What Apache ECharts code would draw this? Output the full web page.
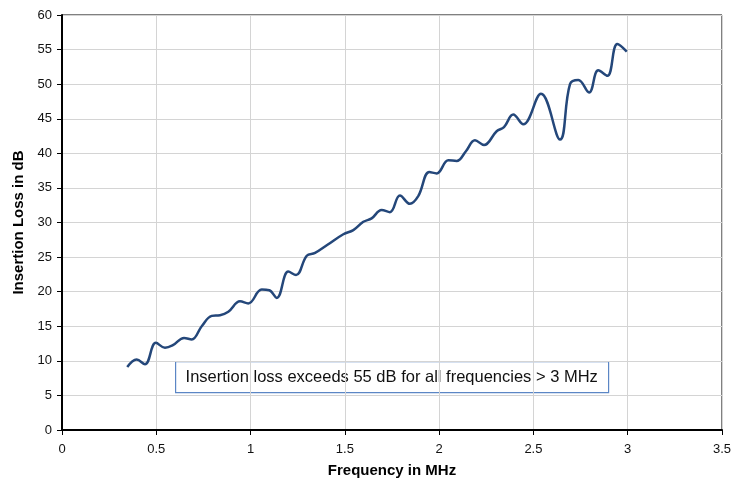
<!DOCTYPE html>
<html>
<head>
<meta charset="utf-8">
<script src="https://cdn.jsdelivr.net/npm/echarts@6/dist/echarts.min.js"></script>
<style>
  html, body { margin: 0; padding: 0; background: #fff; }
  #chart { width: 739px; height: 483px; }
</style>
</head>
<body>
<div id="chart"></div>
<script>
// frequency (MHz) and insertion loss (dB)
var freqMHz = [0.346, 0.396, 0.44, 0.498, 0.546, 0.59, 0.647, 0.688, 0.741, 0.794, 0.838, 0.882,
  0.944, 0.988, 1.059, 1.099, 1.139, 1.2, 1.241, 1.298, 1.342, 1.404, 1.492, 1.545, 1.598,
  1.642, 1.695, 1.739, 1.792, 1.845, 1.889, 1.948, 1.987, 2.049, 2.093, 2.142, 2.19, 2.238,
  2.305, 2.344, 2.393, 2.446, 2.54, 2.641, 2.694, 2.738, 2.795, 2.844, 2.892, 2.945, 2.995];
var lossDb = [9.1, 10.2, 9.5, 12.6, 11.9, 12.3, 13.3, 13.1, 15.0, 16.5, 16.6, 17.1,
  18.6, 18.3, 20.3, 20.2, 19.1, 22.9, 22.4, 25.2, 25.6, 26.7, 28.3, 28.9, 30.1,
  30.6, 31.8, 31.5, 33.9, 32.7, 33.8, 37.3, 37.1, 39.0, 38.9, 40.3, 41.9, 41.2,
  43.2, 43.8, 45.6, 44.2, 48.6, 42.0, 50.0, 50.6, 48.8, 52.0, 51.2, 55.8, 54.7];
var noteText = 'Insertion loss exceeds 55 dB for all frequencies > 3 MHz';

var font = 'Liberation Sans, Arial, sans-serif';
var chart = echarts.init(document.getElementById('chart'), null, { renderer: 'canvas' });
chart.setOption({
  animation: false,
  backgroundColor: '#fff',
  grid: { left: 62, right: 17, top: 15, bottom: 51, show: true, borderColor: '#000', borderWidth: 1 },
  xAxis: {
    type: 'value', min: 0, max: 3.5, interval: 0.5,
    name: 'Frequency in MHz', nameLocation: 'middle', nameGap: 33,
    nameTextStyle: { fontFamily: font, fontSize: 15, fontWeight: 'bold', color: '#000' },
    axisLine: { show: true, lineStyle: { color: '#000', width: 2 } },
    axisTick: { show: true, length: 5, lineStyle: { color: '#000' } },
    axisLabel: { fontFamily: font, fontSize: 13, color: '#111', margin: 13 },
    splitLine: { show: true, lineStyle: { color: '#d4d4d4', width: 1 } }
  },
  yAxis: {
    type: 'value', min: 0, max: 60, interval: 5,
    name: 'Insertion Loss in dB', nameLocation: 'middle', nameGap: 34,
    nameTextStyle: { fontFamily: font, fontSize: 15, fontWeight: 'bold', color: '#000' },
    axisLine: { show: true, lineStyle: { color: '#000', width: 2 } },
    axisTick: { show: true, length: 5, lineStyle: { color: '#000' } },
    axisLabel: { fontFamily: font, fontSize: 13, color: '#111', margin: 10 },
    splitLine: { show: true, lineStyle: { color: '#d4d4d4', width: 1 } }
  },
  series: [{
    type: 'line',
    data: freqMHz.map(function (f, i) { return [f, lossDb[i]]; }),
    smooth: 0.4,
    showSymbol: false,
    lineStyle: { color: '#24477a', width: 2.5 }
  }],
  graphic: [{
    type: 'group', left: 175, top: 361,
    children: [
      { type: 'rect', shape: { x: 0, y: 0, width: 433, height: 31 },
        style: { fill: '#fff', stroke: '#5b86c5', lineWidth: 1.2 } },
      { type: 'text', x: 10, y: 16,
        style: { text: noteText, fontFamily: font, fontSize: 16.5, fill: '#111', verticalAlign: 'middle' } }
    ]
  }]
});
</script>
</body>
</html>
